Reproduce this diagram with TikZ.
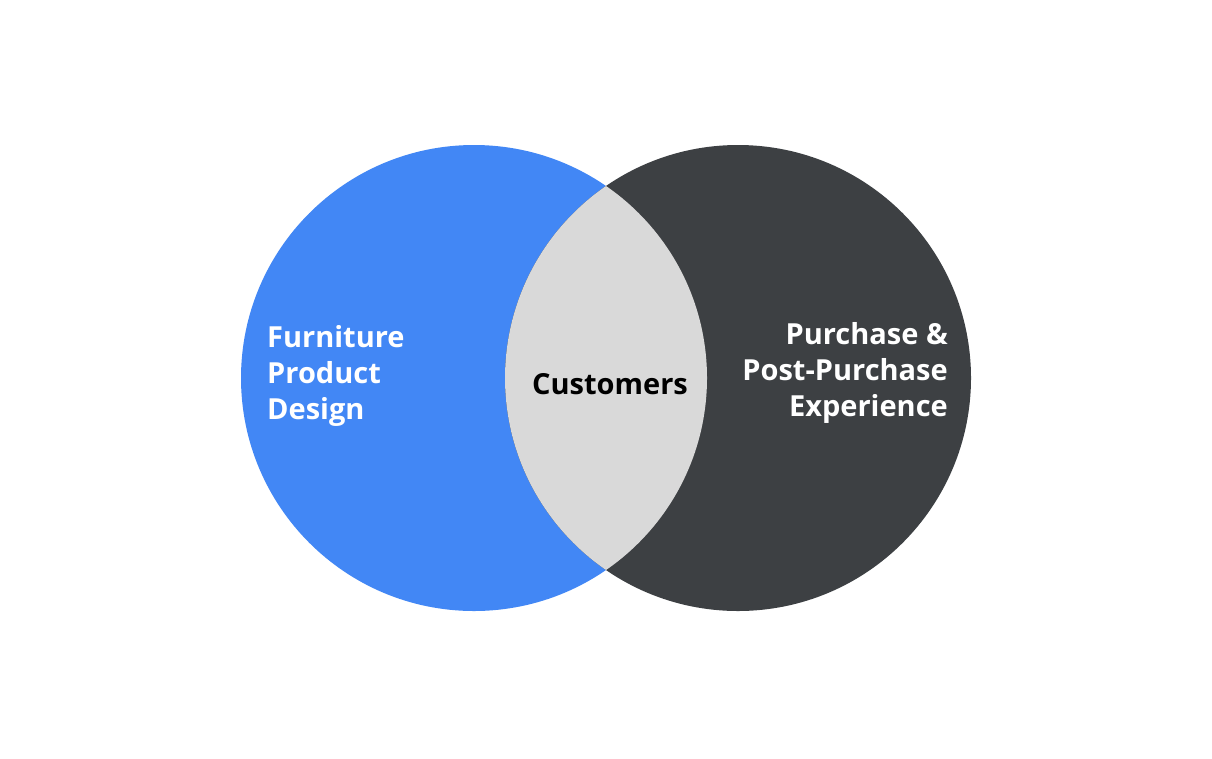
\documentclass[tikz,border=0pt]{standalone}
\usepackage{fontspec}
\setmainfont{Open Sans}
\definecolor{lblue}{HTML}{4287F5}
\definecolor{dgray}{HTML}{3D4043}
\definecolor{lgray}{HTML}{D9D9D9}
\begin{document}
\begin{tikzpicture}[x=1pt,y=-1pt,
  lbl/.style={font=\fontsize{29}{36}\selectfont\bfseries, inner sep=0pt}]
\useasboundingbox (0,0) rectangle (1212,758);
\fill[white] (0,0) rectangle (1212,758);
\fill[lblue] (474,378) circle (233);
\fill[dgray] (738,378) circle (233);
\begin{scope}
\clip (474,378) circle (233);
\fill[lgray] (738,378) circle (233);
\end{scope}
\node[lbl, text=white, align=left, anchor=west] (left) at (267,376) {Furniture\\Product\\Design};
\node[lbl, text=white, align=right, anchor=east] (right) at (948,373) {Purchase \&\\Post-Purchase\\Experience};
\node[lbl, text=black] (mid) at (610,384) {Customers};
\end{tikzpicture}
\end{document}
